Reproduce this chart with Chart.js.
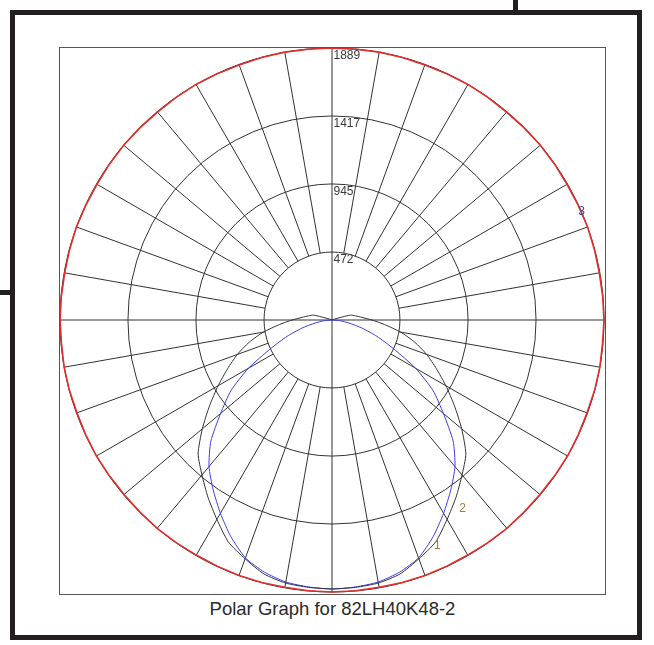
<!DOCTYPE html>
<html>
<head>
<meta charset="utf-8">
<script src="https://cdn.jsdelivr.net/npm/chart.js@4.4.1/dist/chart.umd.min.js"></script>
<style>
body{margin:0;background:#fff;width:654px;height:645px;position:relative;overflow:hidden;font-family:"Liberation Sans",Arial,sans-serif;}
#frame{position:absolute;left:10px;top:10px;width:632px;height:630px;box-sizing:border-box;border:5px solid #231f20;}
#stubTop{position:absolute;left:513px;top:0;width:5px;height:12px;background:#231f20;}
#stubLeft{position:absolute;left:0;top:290px;width:12px;height:5px;background:#231f20;}
#box{position:absolute;left:59px;top:47px;width:545px;height:546px;border:1px solid #555;}
#box canvas{position:absolute;left:0;top:0;}
#title{position:absolute;left:0;width:665px;top:598px;text-align:center;font-size:18.5px;color:#2a2a2a;}
</style>
</head>
<body>
<div id="frame"></div>
<div id="stubTop"></div>
<div id="stubLeft"></div>
<div id="box"><canvas id="chart" width="545" height="545"></canvas></div>
<div id="title">Polar Graph for 82LH40K48-2</div>
<script>
// candela values, 0..180 deg from nadir in 5 deg steps (mirrored for the other half)
var angleStep = 5;
var tickValues = [0, 472, 945, 1417, 1889];
var curve1 = [1868,1861,1848,1813,1758,1661,1550,1439,1329,1190,1010,858,671,470,332,215,118,55,0,
              0,0,0,0,0,0,0,0,0,0,0,0,0,0,0,0,0,0];
var curve2 = [1868,1864,1855,1826,1765,1702,1599,1502,1405,1315,1176,1038,913,800,700,595,484,367,277,
              208,166,131,20,0,0,0,0,0,0,0,0,0,0,0,0,0,0];
var curve3 = [1889,1887,1885,1887,1889,1886,1885,1887,1889,1886,1885,1887,1889,1887,1885,1888,1889,1886,1889,
              1887,1885,1887,1889,1886,1885,1887,1889,1887,1885,1887,1889,1886,1885,1887,1889,1887,1889];
var tagText = ['1', '2', '3'];
var tagAngle = [335, 325.3, 246.6];
var tagValue = [1730, 1594, 1889];

var labels = [];
for (var a = 0; a < 360; a += angleStep) labels.push(a + '°');

function full(half) {
    var out = [];
    for (var i = 0; i < labels.length; i++) out.push(half[i <= 36 ? i : 72 - i]);
    return out;
}

var decor = {
    id: 'decor',
    beforeDatasetsDraw: function(chart) {
        var s = chart.scales.r, ctx = chart.ctx;
        ctx.save();
        ctx.strokeStyle = '#333';
        ctx.lineWidth = 1;
        for (var i = 0; i < labels.length; i += 2) {
            var axis = i % 18 === 0;
            var p = s.getPointPositionForValue(i, axis ? 0 : tickValues[1]);
            var q = s.getPointPositionForValue(i, tickValues[4]);
            ctx.beginPath();
            ctx.moveTo(p.x, p.y);
            ctx.lineTo(q.x, q.y);
            ctx.stroke();
        }
        ctx.fillStyle = '#3a3a3a';
        ctx.font = '12px "Liberation Sans", Arial, sans-serif';
        ctx.textAlign = 'left';
        ctx.textBaseline = 'top';
        tickValues.slice(1).forEach(function(v) {
            var y = s.yCenter - s.getDistanceFromCenterForValue(v);
            ctx.fillText(String(v), s.xCenter + 1.5, y + 1.5);
        });
        ctx.restore();
    },
    afterDatasetsDraw: function(chart) {
        var s = chart.scales.r, ctx = chart.ctx;
        ctx.save();
        ctx.font = '12px "Liberation Sans", Arial, sans-serif';
        ctx.textAlign = 'center';
        ctx.textBaseline = 'middle';
        tagText.forEach(function(t, k) {
            var p = s.getPointPositionForValue(tagAngle[k] / angleStep, tagValue[k]);
            ctx.fillStyle = k === 2 ? '#2f4c9a' : '#a8773f';
            ctx.fillText(t, p.x, p.y);
        });
        ctx.restore();
    }
};

new Chart(document.getElementById('chart'), {
    type: 'radar',
    data: {
        labels: labels,
        datasets: [
            {label: '2', data: full(curve2), borderColor: '#333', borderWidth: 1, tension: 0.2},
            {label: '1', data: full(curve1), borderColor: '#3c3cf0', borderWidth: 1, tension: 0.2},
            {label: '3', data: full(curve3), borderColor: '#e52b2b', borderWidth: 1.6}
        ]
    },
    options: {
        responsive: false,
        animation: false,
        layout: {padding: 0},
        plugins: {legend: {display: false}, tooltip: {enabled: false}},
        elements: {point: {radius: 0}, line: {tension: 0, fill: false}},
        scales: {
            r: {
                min: 0,
                max: 1889,
                startAngle: 180,
                afterBuildTicks: function(s) { s.ticks = tickValues.map(function(v) { return {value: v}; }); },
                ticks: {display: false},
                pointLabels: {display: false},
                angleLines: {display: false},
                grid: {circular: true, color: '#333', lineWidth: 1}
            }
        }
    },
    plugins: [decor]
});
</script>
</body>
</html>
